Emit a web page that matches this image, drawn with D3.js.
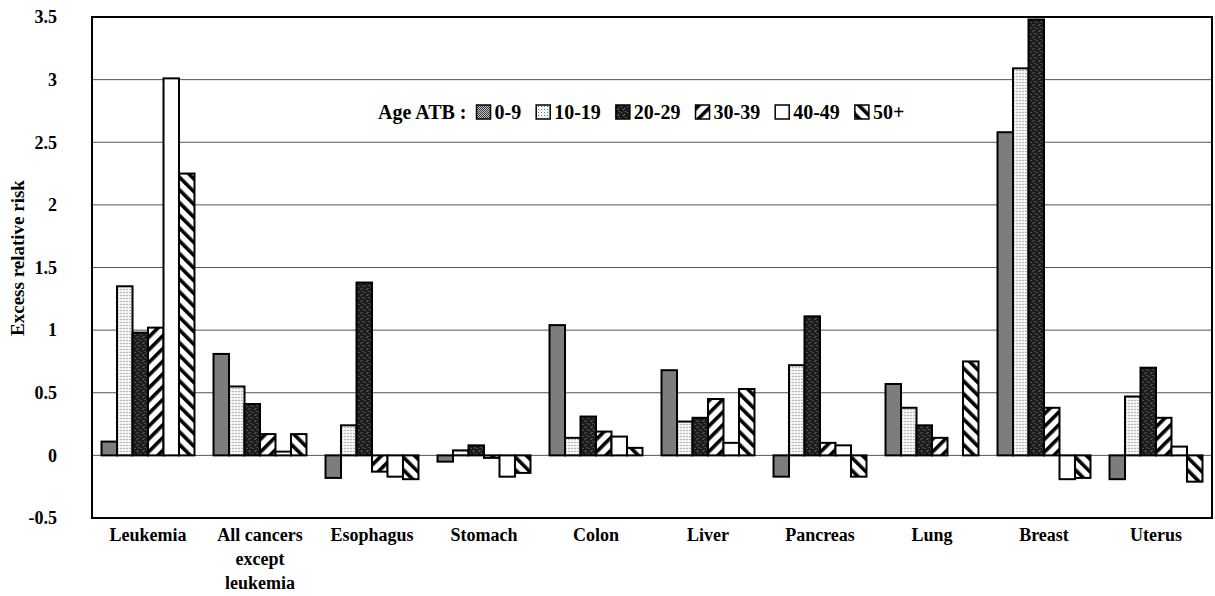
<!DOCTYPE html>
<html><head><meta charset="utf-8">
<script src="https://cdn.jsdelivr.net/npm/d3@7"></script>
<style>
body{margin:0;background:#fff}
svg text{font-family:"Liberation Serif","Times New Roman","DejaVu Serif",serif !important;font-weight:bold;fill:#000}
</style>
</head><body>
<svg id="chart" width="1215" height="596"></svg>
<script>
// ---- data ----
const categories = ["Leukemia", "All cancers\nexcept\nleukemia", "Esophagus", "Stomach", "Colon", "Liver", "Pancreas", "Lung", "Breast", "Uterus"];
const ageGroups = ["0-9", "10-19", "20-29", "30-39", "40-49", "50+"];
const age0_9   = [0.11, 0.81, -0.18, -0.05, 1.04, 0.68, -0.17, 0.57, 2.58, -0.19];
const age10_19 = [1.35, 0.55,  0.24,  0.04, 0.14, 0.27,  0.72, 0.38, 3.09,  0.47];
const age20_29 = [0.98, 0.41,  1.38,  0.08, 0.31, 0.30,  1.11, 0.24, 3.48,  0.70];
const age30_39 = [1.02, 0.17, -0.13, -0.02, 0.19, 0.45,  0.10, 0.14, 0.38,  0.30];
const age40_49 = [3.01, 0.03, -0.17, -0.17, 0.15, 0.10,  0.08, 0.00, -0.19, 0.07];
const age50p   = [2.25, 0.17, -0.19, -0.14, 0.06, 0.53, -0.17, 0.75, -0.18, -0.21];
const seriesValues = [age0_9, age10_19, age20_29, age30_39, age40_49, age50p];
const yTickValues = [-0.5, 0, 0.5, 1, 1.5, 2, 2.5, 3, 3.5];
const yTickLabels = ["-0.5", "0", "0.5", "1", "1.5", "2", "2.5", "3", "3.5"];
const gridValues = [0, 0.5, 1, 1.5, 2, 2.5, 3];
const yTitle = "Excess relative risk";
const legendTitle = "Age ATB :";

// ---- layout ----
const FONT = "Liberation Serif, Times New Roman, DejaVu Serif, serif";
const svg = d3.select("#chart");
const L = 92, R = 1212, T = 17, B = 518;

// patterns
const defs = svg.append("defs");
function pat(id, w, h, fn, transform) {
  const p = defs.append("pattern").attr("id", id).attr("patternUnits", "userSpaceOnUse")
    .attr("width", w).attr("height", h);
  if (transform) p.attr("patternTransform", transform);
  fn(p);
}
pat("p0", 2, 2, p => {
  p.append("rect").attr("width", 2).attr("height", 2).attr("fill", "#c8c8c8");
  p.append("rect").attr("width", 1).attr("height", 1).attr("fill", "#333");
  p.append("rect").attr("x", 1).attr("y", 1).attr("width", 1).attr("height", 1).attr("fill", "#333");
});
pat("p1", 3, 3, p => {
  p.append("rect").attr("width", 3).attr("height", 3).attr("fill", "#f4f4f4");
  p.append("rect").attr("x", 1).attr("y", 1).attr("width", 1).attr("height", 1).attr("fill", "#777");
});
pat("p2", 6, 6, p => {
  p.append("rect").attr("width", 6).attr("height", 6).attr("fill", "#1c1c1c");
  [[0,0],[3,4],[5,1],[1,3]].forEach(([a,b]) =>
    p.append("rect").attr("x", a).attr("y", b).attr("width", 1).attr("height", 1).attr("fill", "#7a7a7a"));
});
pat("p3", 9, 9, p => {
  p.append("rect").attr("width", 9).attr("height", 9).attr("fill", "#fff");
  p.append("rect").attr("width", 3.6).attr("height", 9).attr("fill", "#000");
}, "rotate(45)");
pat("p4", 4, 4, p => {
  p.append("rect").attr("width", 4).attr("height", 4).attr("fill", "#fff");
});
pat("p5", 9, 9, p => {
  p.append("rect").attr("width", 9).attr("height", 9).attr("fill", "#fff");
  p.append("rect").attr("width", 3.6).attr("height", 9).attr("fill", "#000");
}, "rotate(-45)");
const fills = ["url(#p0)", "url(#p1)", "url(#p2)", "url(#p3)", "url(#p4)", "url(#p5)"];

const x = d3.scaleBand().domain(categories).range([L, R]).paddingInner(0.17).paddingOuter(0.085);
const xi = d3.scaleBand().domain(ageGroups).range([0, x.bandwidth()]);
const y = d3.scaleLinear().domain([-0.5, 3.5]).range([B, T]);

// gridlines
svg.append("g").selectAll("line").data(gridValues).join("line")
  .attr("x1", L).attr("x2", R).attr("y1", d => y(d)).attr("y2", d => y(d))
  .attr("stroke", "#555").attr("stroke-width", 1);

// bars
const groups = svg.append("g").selectAll("g").data(categories).join("g")
  .attr("transform", d => `translate(${x(d)},0)`);
groups.selectAll("rect").data((c, ci) => ageGroups.map((a, ai) => ({a, ai, v: seriesValues[ai][ci]})))
  .join("rect")
  .attr("x", d => xi(d.a))
  .attr("width", xi.bandwidth())
  .attr("y", d => y(Math.max(0, d.v)))
  .attr("height", d => Math.abs(y(d.v) - y(0)))
  .attr("fill", d => fills[d.ai])
  .attr("stroke", "#000").attr("stroke-width", 2);

// frame
svg.append("rect").attr("x", L).attr("y", T).attr("width", R - L).attr("height", B - T)
  .attr("fill", "none").attr("stroke", "#000").attr("stroke-width", 2);

// y axis
const yAxis = svg.append("g").attr("transform", `translate(${L},0)`)
  .call(d3.axisLeft(y).tickValues(yTickValues).tickFormat((d, i) => yTickLabels[i]).tickSize(0).tickPadding(35));
yAxis.attr("font-family", FONT).attr("font-size", 18);
yAxis.select(".domain").remove();
yAxis.selectAll("text").attr("font-family", FONT).attr("font-weight", "bold").attr("font-size", 18);

// x axis
const xAxis = svg.append("g").attr("transform", `translate(0,${B})`)
  .call(d3.axisBottom(x).tickSize(0).tickPadding(0));
xAxis.attr("font-family", FONT).attr("font-size", 18);
xAxis.select(".domain").remove();
xAxis.selectAll("text").each(function(d) {
  const t = d3.select(this).text("").attr("y", 0).attr("dy", null)
    .attr("font-family", FONT).attr("font-weight", "bold").attr("font-size", 18);
  d.split("\n").forEach((line, i) => {
    t.append("tspan").attr("x", 0).attr("y", 23 + i * 24).text(line);
  });
});

// y title
svg.append("text").attr("transform", "translate(24,258) rotate(-90)")
  .attr("text-anchor", "middle").attr("font-family", FONT).attr("font-weight", "bold")
  .attr("font-size", 19).text(yTitle);

// legend
const lg = svg.append("g").attr("font-family", FONT).attr("font-weight", "bold").attr("font-size", 20);
const ly = 119;
let cx = 378;
const lt = lg.append("text").attr("x", cx).attr("y", ly).text(legendTitle);
cx += lt.node().getComputedTextLength() + 10;
ageGroups.forEach((a, i) => {
  lg.append("rect").attr("x", cx).attr("y", ly - 14).attr("width", 14).attr("height", 14)
    .attr("fill", fills[i]).attr("stroke", "#000").attr("stroke-width", 1.5);
  cx += 18;
  const t = lg.append("text").attr("x", cx).attr("y", ly).text(a);
  cx += t.node().getComputedTextLength() + 15;
});
</script>
</body></html>
